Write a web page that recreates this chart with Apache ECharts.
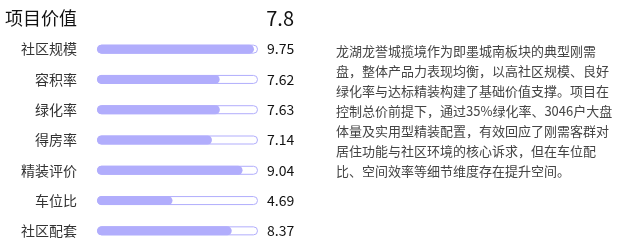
<!DOCTYPE html>
<html>
<head>
<meta charset="utf-8">
<script src="https://cdn.jsdelivr.net/npm/echarts@6/dist/echarts.min.js"></script>
<style>
  html, body { margin: 0; padding: 0; background: #fff; }
  #main { width: 618px; height: 246px; }
</style>
</head>
<body>
<div id="main"></div>
<script>
// 数据
var categories = ['社区规模', '容积率', '绿化率', '得房率', '精装评价', '车位比', '社区配套'];
var scores = [9.75, 7.62, 7.63, 7.14, 9.04, 4.69, 8.37];
var maxScore = 10;
var totalScore = '7.8';
var summaryLines = [
    '龙湖龙誉城揽境作为即墨城南板块的典型刚需',
    '盘，整体产品力表现均衡，以高社区规模、良好',
    '绿化率与达标精装构建了基础价值支撑。项目在',
    '控制总价前提下，通过35%绿化率、3046户大盘',
    '体量及实用型精装配置，有效回应了刚需客群对',
    '居住功能与社区环境的核心诉求，但在车位配',
    '比、空间效率等细节维度存在提升空间。'
];

var font = '"Noto Sans CJK SC", "Noto Sans", sans-serif';
var barColor = '#b1adfc';

var chart = echarts.init(document.getElementById('main'));

var option = {
    animation: false,
    textStyle: { fontFamily: font },
    grid: { left: 97, top: 34, width: 161, height: 216 },
    xAxis: { type: 'value', min: 0, max: maxScore, show: false },
    yAxis: {
        type: 'category',
        data: categories,
        inverse: true,
        axisLine: { show: false },
        axisTick: { show: false },
        axisLabel: { margin: 20, fontSize: 14, color: '#333', fontFamily: font }
    },
    series: [
        {
            // 背景轨道
            type: 'bar',
            data: categories.map(function () { return maxScore; }),
            barWidth: 9,
            silent: true,
            itemStyle: {
                color: '#fff',
                borderColor: barColor,
                borderWidth: 1,
                borderRadius: 5
            },
            label: {
                show: true,
                position: 'right',
                distance: 9,
                fontSize: 14,
                color: '#111',
                fontFamily: font,
                formatter: function (p) { return scores[p.dataIndex].toFixed(2); }
            },
            z: 1
        },
        {
            type: 'bar',
            data: scores,
            barWidth: 9,
            barGap: '-100%',
            itemStyle: { color: barColor, borderRadius: 5 },
            z: 2
        }
    ],
    graphic: [
        {
            type: 'text',
            x: 5, y: 18,
            style: {
                text: '项目价值',
                font: '18px ' + font,
                fill: '#111',
                verticalAlign: 'middle'
            }
        },
        {
            type: 'text',
            x: 294, y: 18,
            style: {
                text: totalScore,
                font: '20px ' + font,
                fill: '#111',
                textAlign: 'right',
                verticalAlign: 'middle'
            }
        },
        {
            type: 'text',
            left: 336, top: 41,
            style: {
                text: summaryLines.join('\n'),
                font: '13px ' + font,
                lineHeight: 20,
                fill: '#444'
            }
        }
    ]
};

chart.setOption(option);
</script>
</body>
</html>
